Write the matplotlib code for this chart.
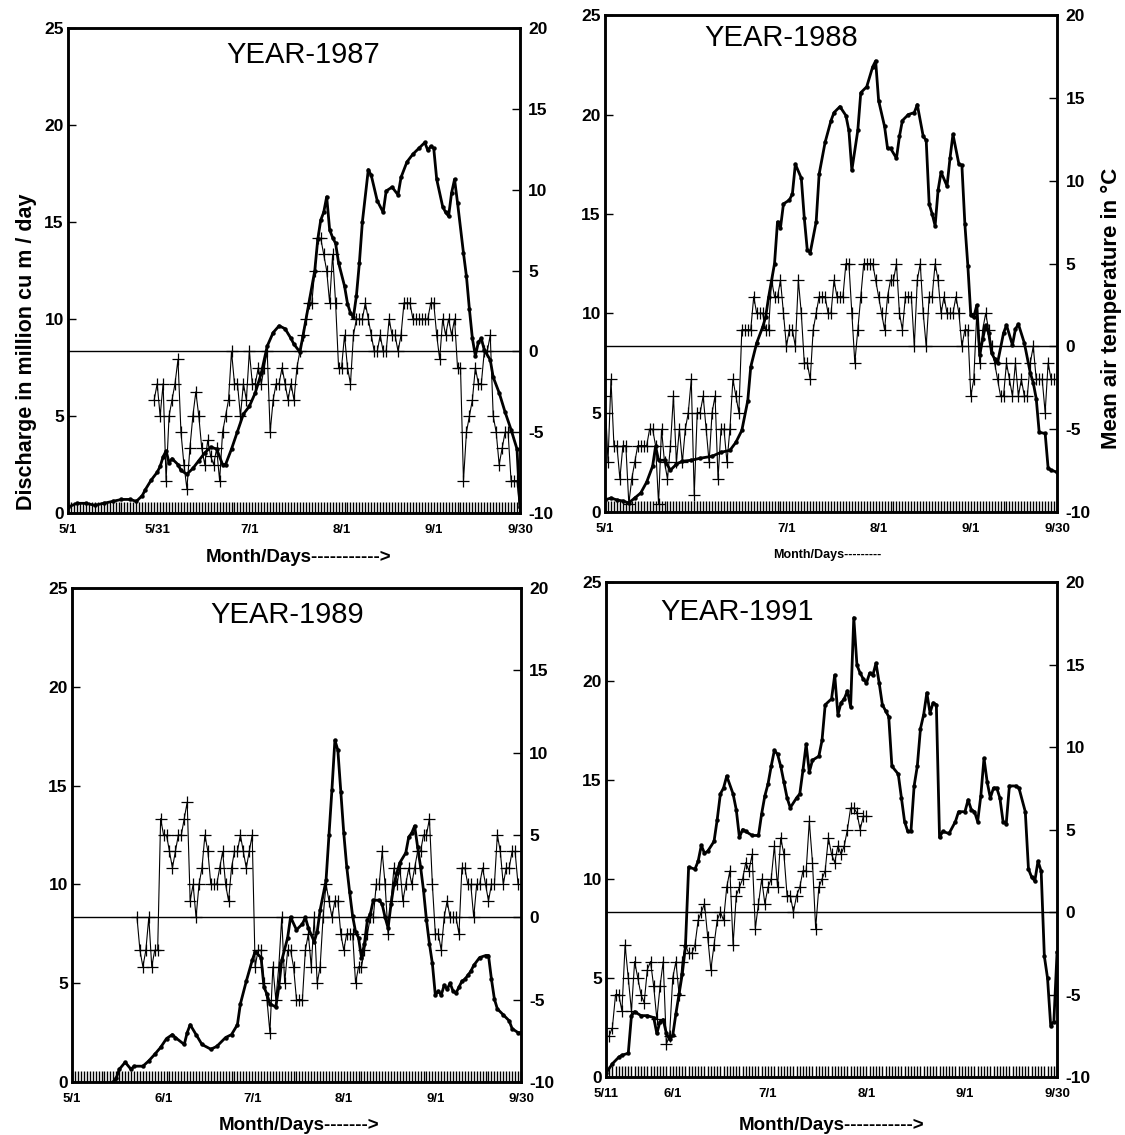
import matplotlib
matplotlib.use("Agg")
import matplotlib.pyplot as plt
import numpy as np

plt.rcParams['font.family'] = ['Liberation Sans', 'DejaVu Sans']

# ---- 1987 ----
q87_days = [0, 3, 6, 9, 12, 15, 18, 21, 23, 25, 26, 28, 30, 31, 32, 33, 34, 35, 37, 38,
            40, 42, 44, 46, 48, 50, 52, 53, 55, 57, 59, 61, 63, 65, 67, 69, 71, 73, 75, 76,
            78, 79, 81, 83, 84, 85, 86, 87, 88, 89, 90, 91, 93, 94, 95, 96, 97, 98, 99, 101,
            102, 104, 106, 107, 109, 111, 112, 114, 116, 118, 120, 121, 122, 123, 124, 126, 127, 128, 129, 130,
            131, 133, 134, 135, 136, 137, 138, 139, 140, 142, 143, 145, 147, 149, 151, 152]
q87 = [0.3, 0.5, 0.5, 0.4, 0.5, 0.6, 0.7, 0.7, 0.6, 0.9, 1.2, 1.7, 2.1, 2.4, 2.9, 3.2, 2.6, 2.8, 2.5, 2.2,
       2.0, 2.3, 2.7, 3.1, 3.4, 3.3, 2.5, 2.5, 3.3, 4.2, 5.1, 5.5, 6.2, 7.2, 8.6, 9.3, 9.65, 9.5, 9.0, 8.7,
       8.3, 9.1, 10.8, 12.5, 14.1, 15.1, 15.5, 16.3, 14.6, 14.2, 13.9, 12.9, 11.7, 10.8, 10.3, 10.1, 11.2, 12.9, 15.0, 17.7,
       17.4, 16.1, 15.5, 16.6, 16.8, 16.4, 17.3, 18.1, 18.5, 18.8, 19.1, 18.7, 18.9, 18.8, 17.2, 15.8, 15.5, 15.3, 16.5, 17.2,
       16.0, 13.4, 12.2, 10.5, 9.0, 8.1, 8.8, 9.0, 8.4, 7.9, 7.0, 6.2, 5.2, 4.3, 3.3, 0.3]
t87_start = 29
t87 = [-3, -2, -4, -2, -8, -4, -3, -2, -0.5, -5, -7, -8.5,
       -6, -4, -2.5, -4, -6, -7, -5.5, -6.5, -7, -6, -8, -5,
       -4, -3, 0, -2, -2, -4, -2, -3, 0, -2, -2, -1,
       -2, -1, 0, -5, -3, -2, -2, -1, -2, -3, -2, -3,
       -1, 0, 1, 2, 3, 3, 5, 7, 7, 6, 5, 3,
       6, 3, -1, -1, 1, -1, -2, 1, 2, 2, 2, 3,
       2, 1, 0, 0, 1, 0, 0, 2, 1, 1, 0, 1,
       3, 3, 3, 2, 2, 2, 2, 2, 2, 3, 3, 1,
       -0.5, 2, 1, 2, 1, 2, -1, -1, -8, -5, -4, -3,
       -1, -2, -2, 0, 0, 1, -4, -5, -7, -6, -5, -5,
       -8, -8, -8, -10]

# ---- 1988 ----
q88_days = [0, 2, 4, 6, 8, 10, 12, 14, 16, 17, 18, 20, 22, 24, 26, 29, 32, 36, 39, 42,
            44, 46, 48, 49, 51, 53, 54, 55, 57, 58, 59, 60, 62, 63, 64, 66, 67, 68, 69, 71,
            72, 74, 76, 77, 79, 81, 82, 83, 85, 86, 88, 90, 91, 92, 94, 95, 96, 98, 99, 100,
            102, 104, 105, 107, 108, 109, 110, 111, 112, 113, 115, 116, 117, 119, 120, 121, 122, 123, 124, 125,
            126, 127, 128, 129, 130, 131, 132, 134, 135, 137, 138, 139, 141, 143, 144, 145, 146, 148, 149, 150,
            152]
q88 = [0.6, 0.7, 0.6, 0.55, 0.45, 0.7, 0.95, 1.5, 2.3, 3.3, 2.6, 2.6, 2.1, 2.4, 2.55, 2.6, 2.7, 2.8, 3.0, 3.1,
       3.5, 4.1, 5.6, 7.3, 8.5, 9.3, 9.8, 10.8, 12.5, 14.6, 14.3, 15.5, 15.7, 16.0, 17.5, 16.8, 14.8, 13.2, 13.05, 14.6,
       17.0, 18.6, 19.7, 20.1, 20.4, 19.95, 19.2, 17.2, 19.2, 21.1, 21.4, 22.4, 22.7, 20.7, 19.4, 18.3, 18.3, 17.8, 18.9, 19.7,
       20.0, 20.1, 20.5, 18.9, 18.7, 15.5, 15.0, 14.4, 16.2, 17.1, 16.4, 17.8, 19.0, 17.5, 17.45, 14.5, 12.4, 9.9, 9.8, 10.4,
       7.9, 8.7, 9.4, 9.0, 8.0, 7.7, 7.5, 9.0, 9.4, 8.4, 9.2, 9.45, 8.5, 7.0, 6.5, 5.7, 4.0, 3.95, 2.2, 2.1,
       2.0]
t88_start = 0
t88 = [-3, -7, -2, -6, -6, -8, -6, -6, -9.5, -8, -7, -6,
       -6, -6, -6, -5, -5, -6, -9.5, -5, -7, -8, -6, -3,
       -7, -5, -7, -5, -4, -2, -9, -4, -4, -3, -5, -7,
       -4, -3, -8, -5, -5, -7, -5, -2, -3, -4, 1, 1,
       1, 1, 3, 2, 2, 2, 1, 1, 4, 3, 3, 4,
       2, 0, 1, 1, 0, 4, 2, -1, -1, -2, 1, 2,
       3, 3, 3, 2, 2, 4, 3, 3, 3, 5, 5, 2,
       -1, 1, 3, 5, 5, 5, 5, 4, 3, 2, 1, 3,
       4, 4, 5, 2, 1, 3, 3, 3, 0, 4, 5, 2,
       0, 3, 3, 5, 4, 2, 3, 2, 2, 2, 3, 2,
       0, 1, 1, -3, -2, 2, -1, 1, 2, 1, 0, -1,
       -2, -3, -3, -1, -2, -3, -1, -3, -2, -3, -3, -1,
       0, -2, -2, -2, -4, -1, -2, -2]

# ---- 1989 ----
q89_days = [14, 15, 16, 18, 20, 21, 24, 26, 28, 30, 32, 34, 35, 38, 39, 40, 42, 44, 47, 49,
            52, 54, 56, 57, 59, 61, 62, 64, 65, 66, 67, 69, 70, 71, 73, 74, 76, 78, 79, 80,
            82, 83, 84, 86, 87, 88, 89, 90, 91, 92, 93, 94, 95, 96, 97, 98, 99, 100, 101, 102,
            104, 105, 106, 107, 108, 109, 110, 111, 113, 114, 115, 116, 117, 118, 119, 120, 121, 122, 123, 124,
            125, 126, 127, 128, 129, 130, 131, 132, 133, 134, 135, 136, 138, 140, 141, 142, 143, 144, 146, 148,
            149, 151, 152]
q89 = [0, 0.2, 0.64, 1.0, 0.64, 0.8, 0.8, 1.07, 1.4, 1.75, 2.2, 2.4, 2.25, 1.9, 2.5, 2.9, 2.4, 1.9, 1.66, 1.8,
       2.25, 2.4, 2.9, 3.95, 5.1, 6.15, 6.6, 6.3, 4.8, 4.45, 3.95, 3.8, 4.8, 6.15, 7.3, 8.35, 7.7, 8.0, 8.33, 7.8,
       7.1, 7.6, 8.7, 10.2, 12.5, 14.8, 17.3, 16.8, 14.7, 12.6, 10.9, 9.6, 8.4, 7.6, 7.3, 6.3, 7.0, 8.2, 8.5, 9.2,
       9.2, 9.0, 8.33, 7.8, 9.0, 10.0, 10.6, 11.1, 11.6, 12.4, 12.6, 12.96, 11.9, 10.9, 9.7, 8.2, 7.0, 6.0, 4.4, 4.6,
       4.4, 4.9, 4.7, 5.0, 4.6, 4.5, 4.8, 5.1, 5.2, 5.4, 5.6, 5.9, 6.3, 6.4, 6.4, 5.2, 4.2, 3.7, 3.4, 3.1,
       2.7, 2.5, 2.5]
t89_start = 22
t89 = [0, -2, -3, -2, 0, -3, -2, -2, 6, 5, 5, 4,
       3, 4, 5, 5, 6, 7, 1, 2, 0, 2, 3, 5,
       4, 2, 2, 2, 3, 4, 2, 1, 3, 4, 4, 5,
       4, 3, 4, 5, -3, -2, -2, -4, -5, -7, -3, -5,
       -3, 0, -4, -2, -2, -3, -5, -5, -5, -2, -1, -3,
       0, -4, -3, 0, 2, 1, 0, 1, 1, -1, -2, -1,
       -1, -1, -4, -3, -3, -2, -1, 0, 0, 2, 2, 4,
       2, -1, 1, 3, 2, 3, 1, 2, 3, 2, 3, 4,
       4, 5, 5, 6, 2, -1, -1, -2, 0, 1, 0, 0,
       0, -1, 3, 3, 2, 2, 0, 2, 2, 3, 2, 1,
       2, 2, 5, 4, 2, 3, 3, 4, 4, 2]

# ---- 1991 ----
q91_days = [10, 12, 14, 15, 17, 18, 19, 21, 23, 25, 26, 27, 28, 29, 30, 31, 32, 33, 34, 35,
            36, 38, 39, 40, 41, 42, 44, 45, 46, 47, 48, 50, 51, 52, 53, 54, 56, 58, 59, 60,
            61, 62, 63, 64, 65, 66, 67, 68, 70, 71, 72, 73, 74, 75, 77, 78, 79, 81, 82, 83,
            84, 85, 86, 87, 88, 89, 90, 91, 92, 93, 94, 95, 96, 97, 98, 99, 100, 102, 103, 104,
            105, 106, 107, 108, 109, 110, 111, 112, 113, 114, 115, 116, 118, 120, 121, 123, 124, 125, 126, 127,
            128, 129, 130, 131, 132, 133, 134, 135, 136, 137, 139, 140, 142, 143, 144, 145, 146, 147, 148, 149,
            150, 151, 152]
q91 = [0.2, 0.67, 1.0, 1.1, 1.2, 3.1, 3.3, 3.1, 3.1, 3.0, 2.2, 2.8, 2.9, 2.2, 1.9, 2.1, 3.2, 4.2, 5.2, 6.6,
       10.6, 10.5, 10.9, 11.7, 11.3, 11.4, 11.9, 13.0, 14.3, 14.6, 15.2, 14.3, 13.5, 12.1, 12.5, 12.4, 12.2, 12.2, 13.3, 14.2,
       14.8, 15.7, 16.5, 16.3, 15.7, 14.9, 14.1, 13.6, 14.1, 14.3, 15.5, 16.8, 15.4, 16.0, 16.2, 17.0, 18.8, 19.1, 20.3, 18.3,
       18.9, 19.1, 19.5, 18.7, 23.2, 20.8, 20.4, 20.1, 19.9, 20.4, 20.3, 20.9, 19.9, 18.8, 18.5, 18.2, 15.7, 15.3, 14.1, 12.9,
       12.4, 12.4, 14.7, 15.7, 17.6, 18.3, 19.4, 18.4, 18.9, 18.8, 12.1, 12.4, 12.3, 12.9, 13.4, 13.4, 14.0, 13.5, 13.4, 12.9,
       14.2, 16.1, 14.9, 14.1, 14.6, 14.6, 14.1, 12.9, 12.8, 14.7, 14.7, 14.6, 13.4, 10.5, 10.1, 9.9, 10.9, 10.4, 6.1, 5.0,
       2.6, 2.8, 6.3]
t91_start = 11
t91 = [-7.5, -7, -5, -5, -6, -2, -4, -6, -3, -4, -5, -5.5,
       -3.5, -3, -4.5, -6.5, -4.5, -3, -8, -7.5, -4, -3, -5, -3,
       -2, -2.5, -2.5, -2, -0.5, 0, 0.5, -1.5, -3.5, -2, -0.5, 0,
       -0.5, 1.5, 2.5, -2, 1, 1.5, 2, 3, 2.5, 3.5, -1, 0.5,
       2, 0.5, 1.5, 2, 4, 1.5, 4.5, 3.5, 1, 1, 0, 1,
       1.5, 2.5, 2.5, 5.5, 3, -1, 1.5, 2, 2.5, 4.5, 3.5, 3,
       4, 3.5, 4, 5, 6.3, 6.3, 6, 5, 5.8, 5.8]

years = ["YEAR-1987", "YEAR-1988", "YEAR-1989", "YEAR-1991"]
tick_days = [[0, 30, 61, 92, 123, 152],
             [0, 61, 92, 123, 152],
             [0, 31, 61, 92, 123, 152],
             [10, 31, 61, 92, 123, 152]]
tick_labels = [["5/1", "5/31", "7/1", "8/1", "9/1", "9/30"],
               ["5/1", "7/1", "8/1", "9/1", "9/30"],
               ["5/1", "6/1", "7/1", "8/1", "9/1", "9/30"],
               ["5/11", "6/1", "7/1", "8/1", "9/1", "9/30"]]

fig = plt.figure(figsize=(11.25, 11.35), dpi=100)

rects = [[0.0604, 0.548, 0.4018, 0.4273],
         [0.5378, 0.549, 0.4018, 0.4376],
         [0.0640, 0.0467, 0.3991, 0.4352],
         [0.5387, 0.0511, 0.4009, 0.4361]]
title_pos = [(0.52, 0.945), (0.39, 0.955), (0.48, 0.945), (0.29, 0.94)]
q_all = [(q87_days, q87), (q88_days, q88), (q89_days, q89), (q91_days, q91)]
t_all = [(t87_start, t87), (t88_start, t88), (t89_start, t89), (t91_start, t91)]

for i in range(4):
    ax = fig.add_axes(rects[i])
    x0 = tick_days[i][0]
    ax.set_xlim(x0, 152)
    ax.set_ylim(0, 25)
    ax2 = ax.twinx()
    ax2.set_ylim(-10, 20)

    qd, qv = q_all[i]
    ax.plot(qd, qv, color='black', lw=2.0, marker='o', ms=2.2, zorder=3)

    ts, tv = t_all[i]
    tdays = np.arange(ts, ts + len(tv))
    ax2.plot(tdays, tv, color='black', lw=0.8, marker='+', ms=9, mew=0.9)
    ax2.axhline(0, color='black', lw=1.0)

    ax.set_xticks(tick_days[i])
    ax.set_xticklabels(tick_labels[i], fontsize=9.5, fontweight='bold')
    ax.set_xticks(np.arange(x0, 153), minor=True)
    ax.tick_params(axis='x', which='major', direction='in', length=8, width=1.0, pad=8)
    ax.tick_params(axis='x', which='minor', direction='in', length=8, width=1.0)

    ax.set_yticks([0, 5, 10, 15, 20, 25])
    ax.set_yticklabels(["0", "5", "10", "15", "20", "25"], fontsize=12.5, fontweight='bold')
    ax.tick_params(axis='y', direction='in', length=6, width=1.0, pad=3)
    ax2.set_yticks([-10, -5, 0, 5, 10, 15, 20])
    ax2.set_yticklabels(["-10", "-5", "0", "5", "10", "15", "20"], fontsize=12.5, fontweight='bold')
    ax2.tick_params(axis='y', direction='in', length=6, width=1.0, pad=6)

    for a in (ax, ax2):
        for s in a.spines.values():
            s.set_linewidth(1.8)

    ax.text(title_pos[i][0], title_pos[i][1], years[i], transform=ax.transAxes,
            ha='center', va='center', fontsize=21)

fig.text(0.024, 0.69, "Discharge in million cu m / day", rotation=90,
         ha='center', va='center', fontsize=15.5, fontweight='bold')
fig.text(0.988, 0.728, "Mean air temperature in °C", rotation=90,
         ha='center', va='center', fontsize=16, fontweight='bold')

fig.text(0.265, 0.509, "Month/Days----------->", ha='center', va='center', fontsize=13.5, fontweight='bold')
fig.text(0.735, 0.511, "Month/Days---------", ha='center', va='center', fontsize=9, fontweight='bold')
fig.text(0.266, 0.008, "Month/Days------->", ha='center', va='center', fontsize=13.5, fontweight='bold')
fig.text(0.739, 0.008, "Month/Days----------->", ha='center', va='center', fontsize=13.5, fontweight='bold')

fig.savefig("out.png", dpi=100)
